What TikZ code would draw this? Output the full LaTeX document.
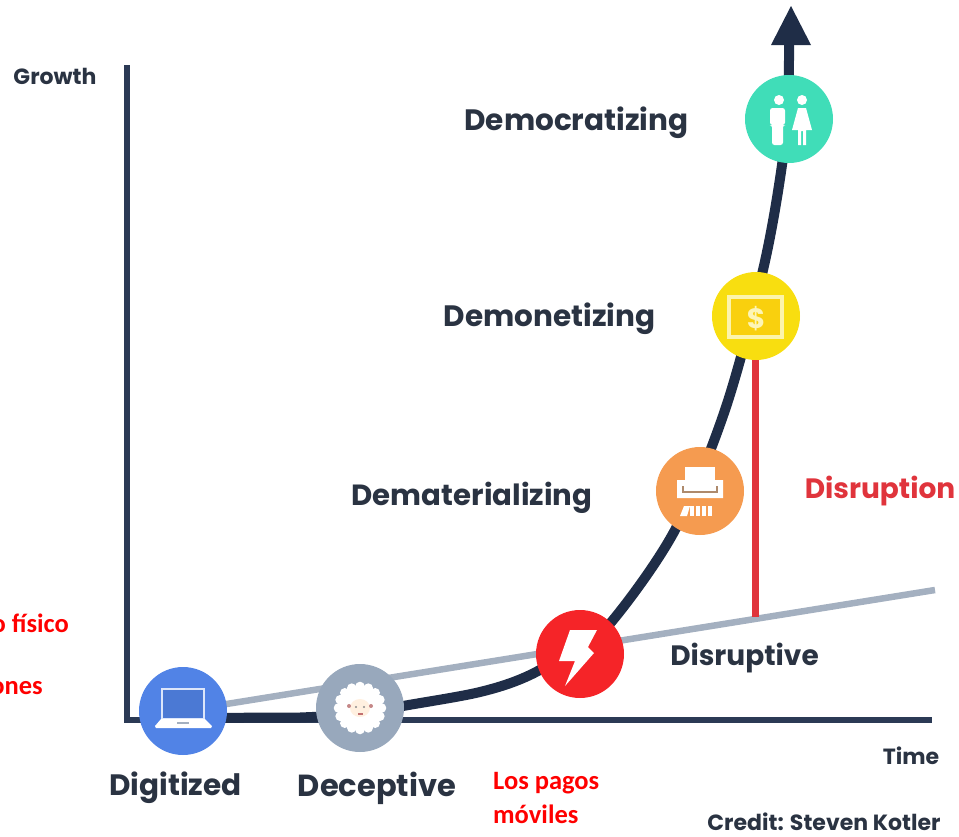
\documentclass[tikz,border=0pt]{standalone}
\usepackage{fontspec}
\setmainfont{Poppins}
\newfontfamily\redfont{Carlito}
\usetikzlibrary{arrows.meta}
\definecolor{axisc}{HTML}{2B3A55}
\definecolor{curvec}{HTML}{1F2D47}
\definecolor{greyl}{HTML}{A4B0C0}
\definecolor{redl}{HTML}{E0343C}
\definecolor{txt}{HTML}{2A3342}
\definecolor{cblue}{HTML}{5183E6}
\definecolor{cgrey}{HTML}{98A8BC}
\definecolor{cred}{HTML}{F52428}
\definecolor{corange}{HTML}{F59B50}
\definecolor{cyellow}{HTML}{F8DE10}
\definecolor{cteal}{HTML}{40DDB8}
\tikzset{
  stage/.style={circle,minimum size=88pt,inner sep=0pt,fill=#1},
  biglabel/.style={text=txt,font=\fontsize{29.5}{32}\selectfont\bfseries,inner sep=0pt},
  narrowlabel/.style={text=txt,font=\fontsize{28}{32}\selectfont\bfseries,inner sep=0pt},
  smalllabel/.style={text=txt,font=\fontsize{22}{24}\selectfont\bfseries,inner sep=0pt},
  redlabel/.style={text=red,font=\redfont\fontsize{26.5}{28}\selectfont\bfseries,inner sep=0pt,anchor=west},
  icon/.style={fill=white,draw=none}
}
\begin{document}
\begin{tikzpicture}[x=1pt,y=-1pt]
\useasboundingbox (0,0) rectangle (959,836);
\coordinate (ytop) at (127,65);
\coordinate (origin) at (127,720);
\coordinate (xend) at (932,720);
\coordinate (gs) at (183,711);
\coordinate (ge) at (935,590);
\coordinate (rt) at (755,355);
\coordinate (rb) at (755,617);
\coordinate (tip) at (791,6);
% axes
\draw[axisc,line width=6pt,line join=miter] (ytop) -- (origin) -- (xend);
% disruptive trend
\draw[greyl,line width=6.5pt] (gs) -- (ge);
\draw[redl,line width=7pt] (rt) -- (rb);
% curve
\draw[curvec,line width=10pt] (183,718) -- (300,717.5) -- (360,715);
\draw[curvec,line width=10pt] plot[smooth,tension=0.55] coordinates {(355,715) (403,706) (480,692) (530,675) (580,645) (613,620) (675,530) (725,410) (763,270) (782,165) (788,95) (789,60) (789,40)};
\fill[curvec] (tip) -- (811,45) -- (771,45) -- cycle;
% stage circles
\node[stage=cblue] (dig) at (183,711) {};
\node[stage=cgrey] (dec) at (360,708) {};
\node[stage=cred] (dis) at (580,654) {};
\node[stage=corange] (mat) at (700,491) {};
\node[stage=cyellow] (mon) at (756,316) {};
\node[stage=cteal] (dem) at (789,119) {};
% laptop
\begin{scope}[shift={(dig.center)}]
\draw[white!80!cblue,line width=2pt,fill=cblue!92!black] (-21,-22) rectangle (21,8);
\fill[icon] (-28,15) -- (-22,8) -- (22,8) -- (29,15) -- (28,17) -- (-27,17) -- cycle;
\fill[greyl] (-6,11) rectangle (6,12.5);
\end{scope}
% sheep
\begin{scope}[shift={(dec.center)}]
\foreach \a in {0,22.5,...,337.5}{\fill[white] (\a:21.5) circle (4.8pt);}
\fill[white] (0,0) circle (22pt);
\fill[white!88!orange] (0,0) ellipse (10pt and 9pt);
\fill[red!35!gray!70] (-11,-2) circle (2pt) (11,-2) circle (2pt);
\fill[black!45] (-4,-1) circle (1.1pt) (4,-1) circle (1.1pt);
\fill[red!40!gray!80] (-2.5,5) rectangle (2.5,6.5);
\end{scope}
% bolt
\begin{scope}[shift={(dis.center)}]
\fill[icon] (-10,-24) -- (17,-24) -- (8,-7) -- (14,-1) -- (-15,32) -- (-5,7) -- (-21,7) -- cycle;
\end{scope}
% shredder
\begin{scope}[shift={(mat.center)}]
\fill[icon] (-15,-24) rectangle (15,-3);
\fill[icon] (-23,-11) -- (-15,-11) -- (-15,-3) -- (15,-3) -- (15,-11) -- (23,-11) -- (23,7) -- (-23,7) -- cycle;
\draw[gray!60!corange,line width=1.6pt] (-17,-5) -- (-17,1) -- (17,1) -- (17,-5);
\foreach \x in {-8,-2,4,10}{\fill[white] (\x-2.2,15) rectangle (\x+2.2,25);}
\fill[white] (-20,25) -- (-13,25) -- (-10,15) -- (-16,15) -- cycle;
\end{scope}
% banknote
\begin{scope}[shift={(mon.center)}]
\fill[cyellow!85!orange] (-28,-21) rectangle (27,22);
\draw[white!65!cyellow,line width=4pt] (-27,-19) rectangle (26,21);
\node[text=white!70!cyellow,font=\fontsize{28}{28}\selectfont\bfseries,inner sep=0pt] (usd) at (0,3) {\$};
\end{scope}
% people
\begin{scope}[shift={(dem.center)}]
\fill[icon] (-10,-19) circle (5pt) (13,-19) circle (5pt);
\fill[icon,rounded corners=2.5pt] (-19,-11) -- (-4,-11) -- (-4,6) -- (-6,6) -- (-6,26) -- (-17,26) -- (-17,6) -- (-19,6) -- cycle;
\fill[icon] (9,-11) -- (17,-11) -- (23,11) -- (17,11) -- (17,26) -- (14,26) -- (14,12) -- (12,12) -- (12,26) -- (9,26) -- (9,11) -- (3,11) -- cycle;
\end{scope}
% labels
\node[smalllabel] (lgrowth) at (55,76.5) {Growth};
\node[smalllabel] (ltime) at (911,755.5) {Time};
\node[smalllabel] (lcredit) at (824,822) {Credit: Steven Kotler};
\node[biglabel] (l1) at (175.5,788) {Digitized};
\node[biglabel,font=\fontsize{30.5}{32}\selectfont\bfseries] (l2) at (377,788) {Deceptive};
\node[narrowlabel] (l3) at (744.5,658.5) {Disruptive};
\node[biglabel,font=\fontsize{29.2}{32}\selectfont\bfseries] (l4) at (472,498) {Dematerializing};
\node[biglabel] (l5) at (549.5,319) {Demonetizing};
\node[biglabel] (l6) at (576.5,123) {Democratizing};
\node[narrowlabel,text=redl] (l7) at (880,491.5) {Disruption};
\node[redlabel,anchor=east] (r1) at (69,623) {o físico};
\node[redlabel,anchor=east] (r2) at (43,688) {ones};
\node[redlabel] (r3) at (493,783) {Los pagos};
\node[redlabel] (r4) at (493,814) {móviles};
\end{tikzpicture}
\end{document}
